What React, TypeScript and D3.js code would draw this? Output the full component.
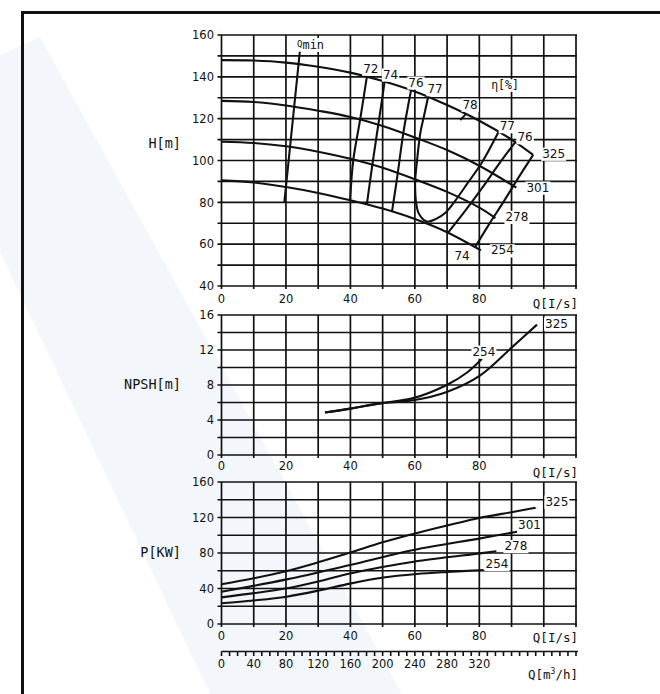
import React from 'react';
import * as d3 from 'd3';

// ---------- tick labels ----------
const Q_TICK_LABELS = [0, 20, 40, 60, 80];
const H_TICK_LABELS = [40, 60, 80, 100, 120, 140, 160];
const NPSH_TICK_LABELS = [0, 4, 8, 12, 16];
const P_TICK_LABELS = [0, 40, 80, 120, 160];
const M3H_TICK_LABELS = [0, 40, 80, 120, 160, 200, 240, 280, 320];

// ---------- H-Q curves (impeller diameters) ----------
const DIAMETERS = ['325', '301', '278', '254'];
const HQ_325_Q = [0, 10, 20, 30, 40, 50, 60, 70, 80, 90, 96.7];
const HQ_325_H = [148, 147.8, 146.8, 144.8, 142, 138, 133, 126.5, 119, 110, 102.7];
const HQ_301_Q = [0, 10, 20, 30, 40, 50, 60, 70, 80, 91.5];
const HQ_301_H = [128.5, 128, 126.3, 123.8, 120.8, 116.5, 111, 105, 97.5, 87];
const HQ_278_Q = [0, 10, 20, 30, 40, 50, 60, 70, 80, 85];
const HQ_278_H = [109, 108.4, 106.8, 104.2, 100.8, 96.5, 91, 85, 77.5, 72.5];
const HQ_254_Q = [0, 10, 20, 30, 40, 50, 60, 70, 80.5];
const HQ_254_H = [90.5, 89.5, 87.3, 84.5, 81, 77, 72, 65.7, 57];

// ---------- iso-efficiency lines ----------
const QMIN_Q = [19.5, 24.3];
const QMIN_H = [80, 152];
const E72_Q = [39.9, 40.9, 43, 45.1];
const E72_H = [81, 100.3, 119.4, 140];
const E74L_Q = [45.1, 47, 49.8, 50.6];
const E74L_H = [79, 100, 129, 137.7];
const E76L_Q = [52.9, 54.4, 56.4, 58, 58.8];
const E76L_H = [75.6, 90.7, 113, 127, 133.4];
const E77_Q = [64.1, 62.9, 61.7, 60.7, 60.1, 60.1, 60.4, 61.3, 63.7, 66.6, 69.4, 72.5, 76.2, 80.9, 85.9];
const E77_H = [130.2, 121.8, 113.2, 100.3, 90.7, 85.9, 79.7, 74.4, 70.8, 72.1, 74.9, 80.7, 88.8, 99.3, 113.5];
const E78_Q = [74.1, 75.9];
const E78_H = [119.4, 122.3];
const E76R_Q = [70.3, 75.6, 80.9, 85.9, 91.1];
const E76R_H = [65.5, 75.9, 86.9, 97.9, 108.7];
const E74R_Q = [78.7, 83.1, 87.7, 92.1, 96.7];
const E74R_H = [58.6, 69.7, 80.7, 91.7, 102.7];

// ---------- NPSH ----------
const N254_Q = [32.1, 40, 49.2, 59.5, 69.9, 76.1, 80.8];
const N254_V = [4.85, 5.3, 5.9, 6.5, 8.0, 9.4, 11.0];
const N325_Q = [32.1, 40, 49.2, 59.5, 69.9, 80.3, 90.1, 97.9];
const N325_V = [4.85, 5.3, 5.9, 6.25, 7.2, 9.1, 12.3, 14.9];

// ---------- Power ----------
const P325_Q = [0, 10, 20, 30, 40, 50, 60, 70, 80, 90, 97.4];
const P325_V = [44.7, 51.5, 59.5, 69.5, 80.5, 92, 102, 111, 119.5, 126, 131];
const P301_Q = [0, 20.2, 39.9, 59.6, 80.3, 91.7];
const P301_V = [36.4, 50.3, 66.5, 83.4, 96.5, 104];
const P278_Q = [0, 20.2, 30.6, 39.9, 59.6, 80.3, 85.3];
const P278_V = [30, 40.2, 48.4, 57, 70.2, 79.6, 82];
const P254_Q = [0, 10, 20.2, 30.6, 39.9, 50.2, 60.6, 70, 81.3];
const P254_V = [23.3, 26.5, 30.8, 38, 45.5, 52.3, 56.3, 58.6, 60.8];

// ---------- layout ----------
const X0 = 221.5, X1 = 576;
const x = d3.scaleLinear().domain([0, 110]).range([X0, X1]);
const xM3 = d3.scaleLinear().domain([0, 440]).range([X0, X1]);
const yH = d3.scaleLinear().domain([40, 160]).range([286, 35]);
const yN = d3.scaleLinear().domain([0, 16]).range([455, 315]);
const yP = d3.scaleLinear().domain([0, 160]).range([624, 482]);

const NUM_FONT = 'DejaVu Sans';
const MONO_FONT = 'DejaVu Sans Mono';
const INK = '#111';

const zip = (a: number[], b: number[]) => a.map((v, i) => [v, b[i]] as [number, number]);

function makeLine(ys: d3.ScaleLinear<number, number>) {
  return d3
    .line<[number, number]>()
    .x((d) => x(d[0]))
    .y((d) => ys(d[1]))
    .curve(d3.curveCatmullRom.alpha(0.5));
}

function Grid({ ys, yStep }: { ys: d3.ScaleLinear<number, number>; yStep: number }) {
  const [y0, y1] = ys.domain();
  const yTicks = d3.range(y0, y1 + yStep / 2, yStep);
  const xTicks = x.ticks(11);
  const top = ys(y1), bot = ys(y0);
  return (
    <g stroke={INK} strokeWidth={1.7}>
      {xTicks.map((t) => (
        <line key={'v' + t} x1={x(t)} x2={x(t)} y1={top} y2={bot + 3} />
      ))}
      {yTicks.map((t) => (
        <line key={'h' + t} x1={X0 - 4} x2={X1 + 1} y1={ys(t)} y2={ys(t)} />
      ))}
    </g>
  );
}

function BgLabel({ px, py, text, anchor = 'start', fs = 12, family = NUM_FONT }: any) {
  const w = text.length * fs * 0.64 + 2;
  const left = anchor === 'start' ? px - 1 : anchor === 'end' ? px - w + 1 : px - w / 2;
  return (
    <g>
      <rect x={left} y={py - fs * 0.85} width={w} height={fs * 1.1} fill="#fff" />
      <text x={px} y={py} fontSize={fs} fontFamily={family} textAnchor={anchor} fill={INK}>
        {text}
      </text>
    </g>
  );
}

function YLabels({ ys, ticks }: { ys: d3.ScaleLinear<number, number>; ticks: number[] }) {
  return (
    <g>
      {ticks.map((t) => (
        <text key={t} x={214} y={ys(t) + 4.3} fontSize={11.5} fontFamily={NUM_FONT} textAnchor="end" fill={INK}>
          {t}
        </text>
      ))}
    </g>
  );
}

function XLabels({ base, qBase }: { base: number; qBase: number }) {
  return (
    <g>
      {Q_TICK_LABELS.map((t) => (
        <text key={t} x={x(t)} y={base} fontSize={11.5} fontFamily={NUM_FONT} textAnchor="middle" fill={INK}>
          {t}
        </text>
      ))}
      <text x={578} y={qBase} fontSize={12.5} fontFamily={MONO_FONT} textAnchor="end" fill={INK}>
        Q[I/s]
      </text>
    </g>
  );
}

export default function App() {
  const lH = makeLine(yH);
  const lN = makeLine(yN);
  const lP = makeLine(yP);

  const hq = [zip(HQ_325_Q, HQ_325_H), zip(HQ_301_Q, HQ_301_H), zip(HQ_278_Q, HQ_278_H), zip(HQ_254_Q, HQ_254_H)];
  const eff = [
    zip(QMIN_Q, QMIN_H),
    zip(E72_Q, E72_H),
    zip(E74L_Q, E74L_H),
    zip(E76L_Q, E76L_H),
    zip(E77_Q, E77_H),
    zip(E78_Q, E78_H),
    zip(E76R_Q, E76R_H),
    zip(E74R_Q, E74R_H),
  ];
  const npsh = [zip(N325_Q, N325_V), zip(N254_Q, N254_V)];
  const pw = [zip(P325_Q, P325_V), zip(P301_Q, P301_V), zip(P278_Q, P278_V), zip(P254_Q, P254_V)];

  const endOf = (pts: [number, number][], ys: any) => {
    const p = pts[pts.length - 1];
    return [x(p[0]), ys(p[1])];
  };
  const topOf = (pts: [number, number][]) => {
    const p = pts[0][1] > pts[pts.length - 1][1] ? pts[0] : pts[pts.length - 1];
    return [x(p[0]), yH(p[1])];
  };

  // label offsets
  const hqOff = [[9, 3], [10, 4], [10, 3], [10, 4]];
  const pwOff = [[10, -2], [1, -3], [8, -1], [2, -2]];

  const e72 = topOf(eff[1]);
  const e74 = topOf(eff[2]);
  const e76 = topOf(eff[3]);
  const e77 = [x(E77_Q[0]), yH(E77_H[0])];
  const e78 = endOf(eff[5], yH);
  const e77r = endOf(eff[4], yH);
  const e76r = endOf(eff[6], yH);
  const e74r = [x(E74R_Q[0]), yH(E74R_H[0])];

  const n325 = endOf(npsh[0], yN);
  const n254 = endOf(npsh[1], yN);

  return (
    <svg width={660} height={694} style={{ position: 'absolute', left: 0, top: 0, background: '#fff' }}>
      {/* watermark band */}
      <polygon points="0,55 40,37 402,694 210,694 0,252" fill="#f3f6fa" />
      {/* frame */}
      <path d="M22.5,700 L22.5,12.5 L670,12.5" fill="none" stroke={INK} strokeWidth={3} />

      {/* ===== H-Q panel ===== */}
      <Grid ys={yH} yStep={10} />
      <YLabels ys={yH} ticks={H_TICK_LABELS} />
      <XLabels base={303} qBase={308} />
      <text x={181} y={148} fontSize={13.5} fontFamily={MONO_FONT} textAnchor="end" fill={INK}>H[m]</text>

      {/* Qmin label with background masking grid */}
      <rect x={297} y={38} width={33} height={14} fill="#fff" />
      <text x={297} y={49} fontFamily={MONO_FONT} fill={INK}>
        <tspan fontSize={9} dy={-2}>Q</tspan>
        <tspan fontSize={12} dy={2}>min</tspan>
      </text>
      <BgLabel px={505} py={89} text="η[%]" fs={11.5} family={MONO_FONT} anchor="middle" />

      <g fill="none" stroke={INK} strokeWidth={2.1}>
        {hq.map((pts, i) => (
          <path key={'hq' + i} d={lH(pts) || ''} />
        ))}
        {eff.map((pts, i) => (
          <path key={'e' + i} d={lH(pts) || ''} />
        ))}
      </g>

      {hq.map((pts, i) => {
        const [ex, ey] = endOf(pts, yH);
        return <BgLabel key={'hql' + i} px={ex + hqOff[i][0]} py={ey + hqOff[i][1]} text={DIAMETERS[i]} />;
      })}
      <BgLabel px={e72[0] + 4} py={e72[1] - 4} text="72" anchor="middle" />
      <BgLabel px={e74[0] + 6} py={e74[1] - 3} text="74" anchor="middle" />
      <BgLabel px={e76[0] + 5} py={e76[1] - 4} text="76" anchor="middle" />
      <BgLabel px={e77[0] + 7} py={e77[1] - 4} text="77" anchor="middle" />
      <BgLabel px={e78[0] + 4} py={e78[1] - 5} text="78" anchor="middle" />
      <BgLabel px={e77r[0] + 9} py={e77r[1] - 2} text="77" anchor="middle" />
      <BgLabel px={e76r[0] + 10} py={e76r[1] - 1} text="76" anchor="middle" />
      <BgLabel px={e74r[0] - 13} py={e74r[1] + 13} text="74" anchor="middle" />

      {/* ===== NPSH panel ===== */}
      <Grid ys={yN} yStep={2} />
      <YLabels ys={yN} ticks={NPSH_TICK_LABELS} />
      <XLabels base={470} qBase={477} />
      <text x={181} y={389} fontSize={13.5} fontFamily={MONO_FONT} textAnchor="end" fill={INK}>NPSH[m]</text>
      <g fill="none" stroke={INK} strokeWidth={2.1}>
        {npsh.map((pts, i) => (
          <path key={'n' + i} d={lN(pts) || ''} />
        ))}
      </g>
      <BgLabel px={n325[0] + 8} py={n325[1] + 3} text="325" />
      <BgLabel px={n254[0] + 2} py={n254[1] - 3} text="254" anchor="middle" />

      {/* ===== Power panel ===== */}
      <Grid ys={yP} yStep={20} />
      <YLabels ys={yP} ticks={P_TICK_LABELS} />
      <XLabels base={639.5} qBase={642} />
      <text x={181} y={557} fontSize={13.5} fontFamily={MONO_FONT} textAnchor="end" fill={INK}>P[KW]</text>
      <g fill="none" stroke={INK} strokeWidth={2.1}>
        {pw.map((pts, i) => (
          <path key={'p' + i} d={lP(pts) || ''} />
        ))}
      </g>
      {pw.map((pts, i) => {
        const [ex, ey] = endOf(pts, yP);
        return <BgLabel key={'pl' + i} px={ex + pwOff[i][0]} py={ey + pwOff[i][1]} text={DIAMETERS[i]} />;
      })}

      {/* ===== m3/h axis ===== */}
      <g stroke={INK} strokeWidth={1.6}>
        <line x1={X0} x2={X1 + 2} y1={651.5} y2={651.5} />
        {xM3.ticks(44).map((t) => (
          <line key={'m' + t} x1={xM3(t)} x2={xM3(t)} y1={651.5} y2={656} />
        ))}
      </g>
      {M3H_TICK_LABELS.map((t) => (
        <text key={'ml' + t} x={xM3(t)} y={667.5} fontSize={11.5} fontFamily={NUM_FONT} textAnchor="middle" fill={INK}>
          {t}
        </text>
      ))}
      <text x={578} y={678.5} fontSize={12.5} fontFamily={MONO_FONT} textAnchor="end" fill={INK}>
        Q[m<tspan fontSize={8} dy={-5}>3</tspan>
        <tspan dy={5}>/h]</tspan>
      </text>
    </svg>
  );
}
